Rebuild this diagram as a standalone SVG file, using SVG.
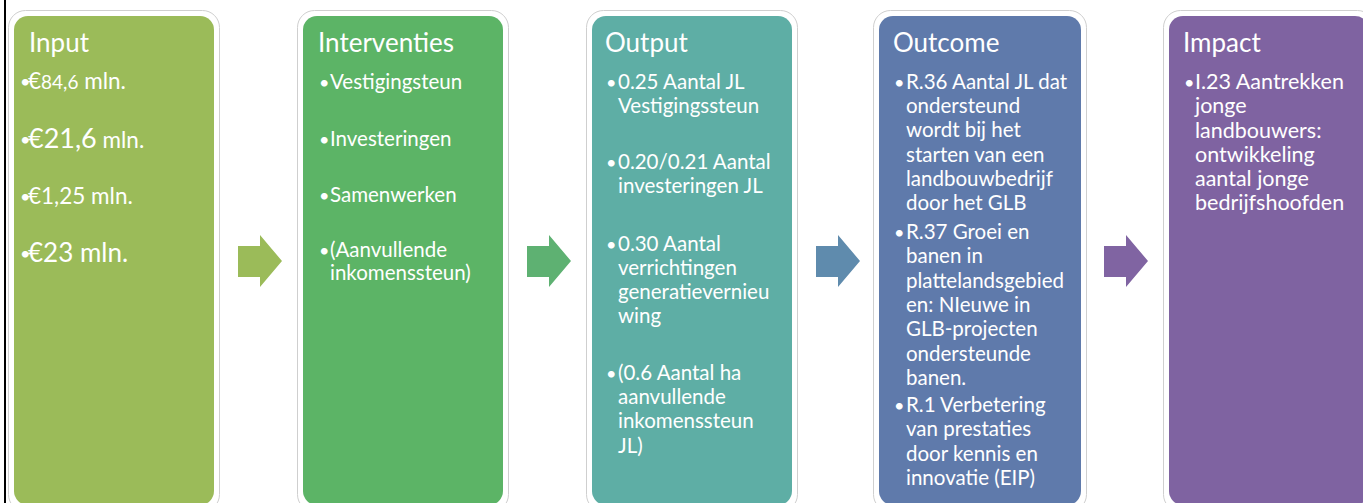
<svg xmlns="http://www.w3.org/2000/svg" width="1363" height="503" viewBox="0 0 1363 503">
<style>
.card{fill:#ffffff;stroke:#cfcfcf;stroke-width:1}
.t{font-family:Lato,"Open Sans","Liberation Sans",sans-serif;fill:#ffffff}
.h{font-size:26px}
.b{font-size:20.5px}
.bi{font-size:22.5px}
.bl{font-size:18px}
</style>
<rect width="1363" height="503" fill="#ffffff"/>
<rect x="4" y="0" width="2" height="503" fill="#000000"/>

<g id="input">
<rect class="card" x="8.5" y="10.5" width="211" height="501" rx="17"/>
<rect x="14" y="16" width="200" height="489" rx="14" fill="#9BBB59"/>
<text class="t h" x="29" y="52">Input</text>
<g class="t bi">
<text x="20" y="88"><tspan class="bl">•</tspan><tspan x="28" y="89">€</tspan><tspan font-size="19px">84,6</tspan> mln.</text>
<text x="20" y="146"><tspan class="bl">•</tspan><tspan x="28" y="148" font-size="27px">€21,6</tspan> mln.</text>
<text x="20" y="203"><tspan class="bl">•</tspan><tspan x="28" y="204">€1,25 mln.</tspan></text>
<text x="20" y="260"><tspan class="bl">•</tspan><tspan x="28" y="262" font-size="26px">€23 mln.</tspan></text>
</g>
</g>

<g id="interventies">
<rect class="card" x="297.5" y="10.5" width="211" height="501" rx="17"/>
<rect x="303" y="16" width="200" height="489" rx="14" fill="#5CB466"/>
<text class="t h" x="318" y="52">Interventies</text>
<g class="t b">
<text class="bl" x="319" y="89">•</text><text x="330" y="89">Vestigingsteun</text>
<text class="bl" x="319" y="145.5">•</text><text x="330" y="145.5">Investeringen</text>
<text class="bl" x="319" y="201.5">•</text><text x="330" y="201.5">Samenwerken</text>
<text class="bl" x="319" y="257">•</text><text x="330" y="257">(Aanvullende</text>
<text x="330" y="280">inkomenssteun)</text>
</g>
</g>

<g id="output">
<rect class="card" x="586.5" y="10.5" width="211" height="501" rx="17"/>
<rect x="592" y="16" width="200" height="489" rx="14" fill="#5EAEA5"/>
<text class="t h" x="605" y="52">Output</text>
<g class="t b">
<text class="bl" x="606" y="89">•</text><text x="618" y="89">0.25 Aantal JL</text>
<text x="618" y="113">Vestigingssteun</text>
<text class="bl" x="606" y="169">•</text><text x="618" y="169">0.20/0.21 Aantal</text>
<text x="618" y="193">investeringen JL</text>
<text class="bl" x="606" y="250.5">•</text><text x="618" y="250.5">0.30 Aantal</text>
<text x="618" y="275">verrichtingen</text>
<text x="618" y="299">generatievernieu</text>
<text x="618" y="323">wing</text>
<text class="bl" x="606" y="380">•</text><text x="618" y="380">(0.6 Aantal ha</text>
<text x="618" y="404">aanvullende</text>
<text x="618" y="428">inkomenssteun</text>
<text x="618" y="452.5">JL)</text>
</g>
</g>

<g id="outcome">
<rect class="card" x="873.5" y="10.5" width="213" height="501" rx="17"/>
<rect x="879" y="16" width="202" height="489" rx="14" fill="#5F7AAB"/>
<text class="t h" x="893" y="52">Outcome</text>
<g class="t b">
<text class="bl" x="894" y="88.7">•</text><text x="906" y="88.7">R.36 Aantal JL dat</text>
<text x="906" y="113">ondersteund</text>
<text x="906" y="137.3">wordt bij het</text>
<text x="906" y="161.6">starten van een</text>
<text x="906" y="186">landbouwbedrijf</text>
<text x="906" y="210.2">door het GLB</text>
<text class="bl" x="894" y="239">•</text><text x="906" y="239">R.37 Groei en</text>
<text x="906" y="263.3">banen in</text>
<text x="906" y="287.6">plattelandsgebied</text>
<text x="906" y="312">en: NIeuwe in</text>
<text x="906" y="336.2">GLB-projecten</text>
<text x="906" y="360.5">ondersteunde</text>
<text x="906" y="384.8">banen.</text>
<text class="bl" x="894" y="412">•</text><text x="906" y="412">R.1 Verbetering</text>
<text x="906" y="436.3">van prestaties</text>
<text x="906" y="460.6">door kennis en</text>
<text x="906" y="485">innovatie (EIP)</text>
</g>
</g>

<g id="impact">
<rect class="card" x="1163.5" y="10.5" width="211" height="501" rx="17"/>
<rect x="1169" y="16" width="200" height="489" rx="14" fill="#7F63A1"/>
<text class="t h" x="1183" y="52">Impact</text>
<g class="t" font-size="21.5px">
<text class="bl" x="1184" y="89">•</text><text x="1195" y="89">I.23 Aantrekken</text>
<text x="1195" y="113">jonge</text>
<text x="1195" y="137.5">landbouwers:</text>
<text x="1195" y="161.8">ontwikkeling</text>
<text x="1195" y="186">aantal jonge</text>
<text x="1195" y="210.4">bedrijfshoofden</text>
</g>
</g>

<g id="connectors">
<polygon points="238,246 260,246 260,235 282,261 260,287 260,277 238,277" fill="#9BBB59"/>
<polygon points="527,246 549,246 549,235 571,261 549,287 549,277 527,277" fill="#5EB172"/>
<polygon points="816,246 838,246 838,235 860,261 838,287 838,277 816,277" fill="#5F8BAD"/>
<polygon points="1104,246 1126,246 1126,235 1148,261 1126,287 1126,277 1104,277" fill="#8064A2"/>
</g>
</svg>
